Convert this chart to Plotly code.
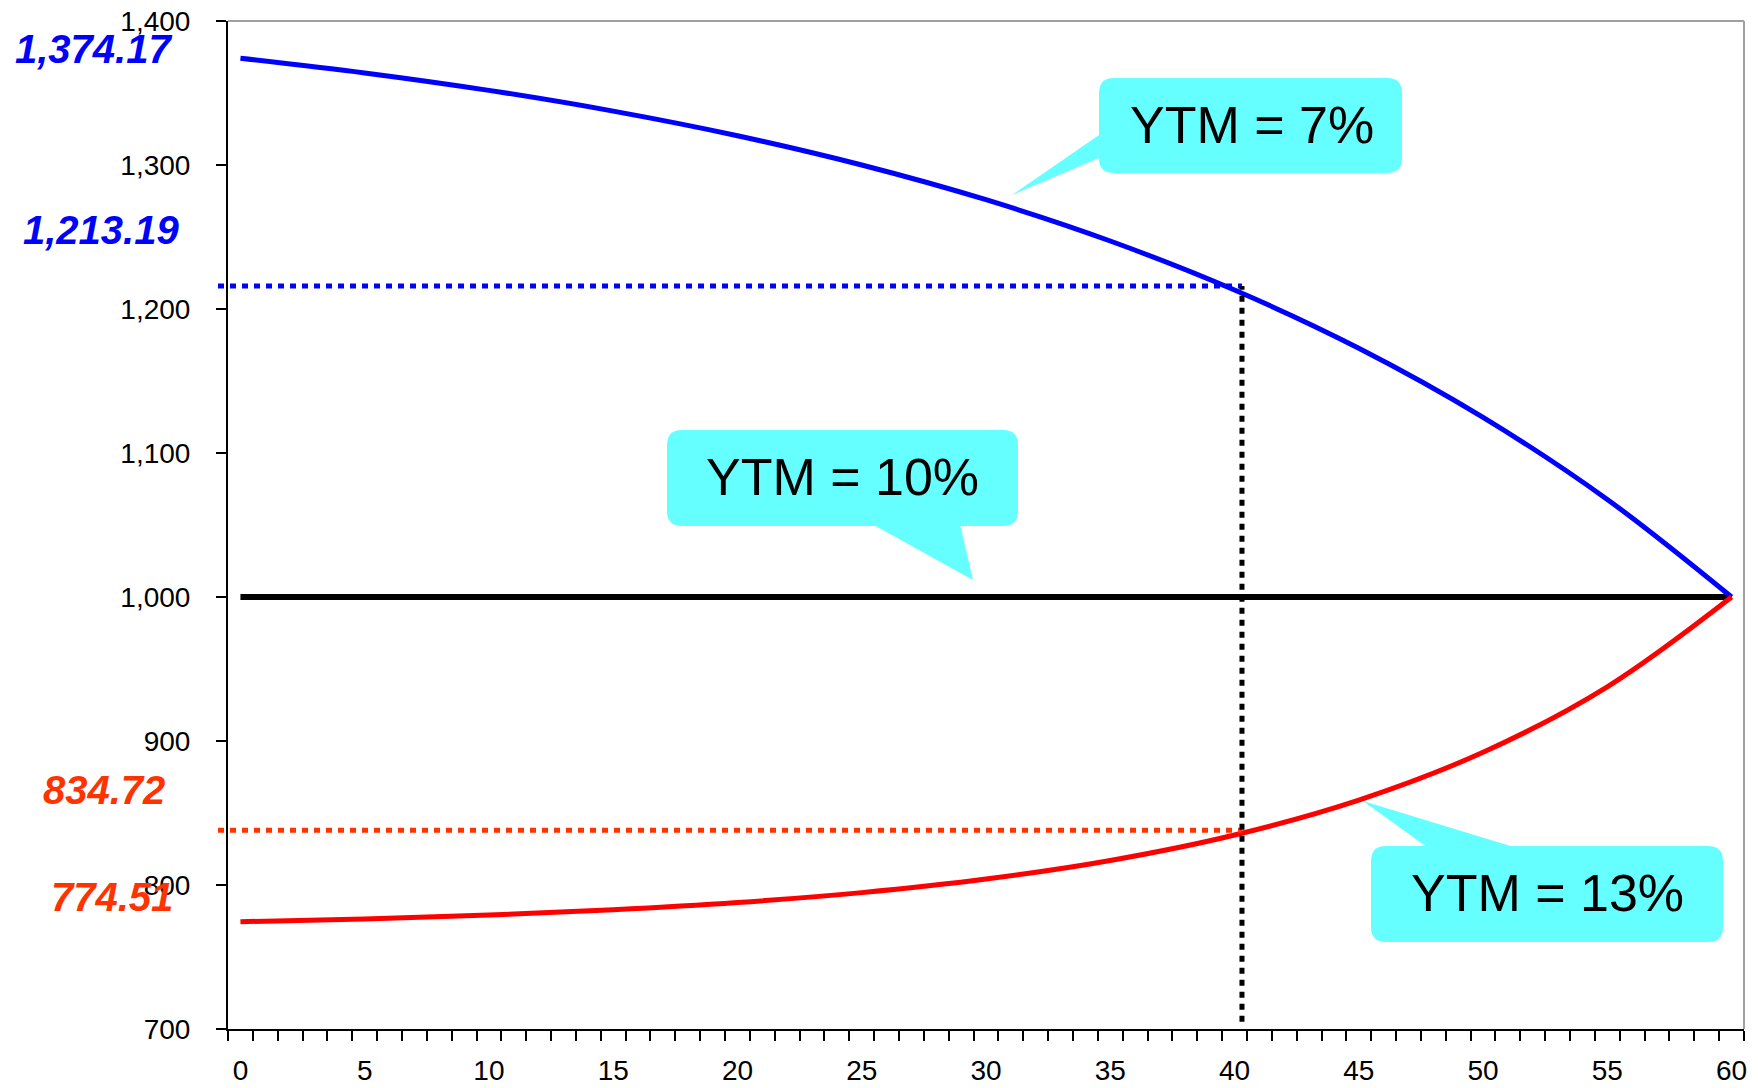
import plotly.graph_objects as go

# ---- data ----
periods = [0, 5, 10, 15, 20, 25, 30, 35, 40, 45, 50, 55, 60]
price_ytm7 = [1374.17, 1363.96, 1351.83, 1337.43, 1320.33, 1300.01, 1275.88,
              1247.22, 1213.18, 1172.76, 1124.75, 1067.73, 1000.00]
price_ytm10 = [1000.00] * 13
price_ytm13 = [774.51, 776.46, 779.13, 782.80, 787.82, 794.70, 804.12,
               817.03, 834.72, 858.96, 892.17, 937.66, 1000.00]
x_ticks = [0, 5, 10, 15, 20, 25, 30, 35, 40, 45, 50, 55, 60]
marker_period = 40.3
marker_high = 1216
marker_low = 838
left_labels = ["1,374.17", "1,213.19", "834.72", "774.51"]
callout_texts = ["YTM = 7%", "YTM = 10%", "YTM = 13%"]

# ---- layout geometry (pixels) ----
W, H = 1758, 1088
L, R, T, B = 228, 14, 21, 59
PW, PH = W - L - R, H - T - B
FONT = "Liberation Sans, Arial, sans-serif"
BLUE, RED, TRED, CYAN = "#0000FF", "#FF0000", "#FF3300", "#66FFFF"


def px(xp, yp):
    return (xp - L) / PW, (H - B - yp) / PH


def rrect_path(x0, y0, x1, y1, r):
    def P(a, b):
        u, v = px(a, b)
        return f"{u:.5f},{v:.5f}"
    d = (f"M {P(x0 + r, y0)} L {P(x1 - r, y0)} Q {P(x1, y0)} {P(x1, y0 + r)} "
         f"L {P(x1, y1 - r)} Q {P(x1, y1)} {P(x1 - r, y1)} "
         f"L {P(x0 + r, y1)} Q {P(x0, y1)} {P(x0, y1 - r)} "
         f"L {P(x0, y0 + r)} Q {P(x0, y0)} {P(x0 + r, y0)} Z")
    return d


def tri_path(a, b, c):
    pa, pb, pc = px(*a), px(*b), px(*c)
    return (f"M {pa[0]:.5f},{pa[1]:.5f} L {pb[0]:.5f},{pb[1]:.5f} "
            f"L {pc[0]:.5f},{pc[1]:.5f} Z")


fig = go.Figure()
fig.add_trace(go.Scatter(x=periods, y=price_ytm10, mode="lines",
                         line=dict(color="black", width=6), hoverinfo="skip"))
fig.add_trace(go.Scatter(x=periods, y=price_ytm7, mode="lines",
                         line=dict(color=BLUE, width=5, shape="spline"), hoverinfo="skip"))
fig.add_trace(go.Scatter(x=periods, y=price_ytm13, mode="lines",
                         line=dict(color=RED, width=5, shape="spline"), hoverinfo="skip"))

shapes = []
# plot frame (top and right, grey)
shapes.append(dict(type="line", xref="paper", yref="paper", x0=0, x1=1, y0=1, y1=1,
                   line=dict(color="#A0A0A0", width=2)))
shapes.append(dict(type="line", xref="paper", yref="paper", x0=1, x1=1, y0=0, y1=1,
                   line=dict(color="#A0A0A0", width=2)))
# dotted guide lines
xl = px(218, 0)[0]
xr = px(1242, 0)[0]
shapes.append(dict(type="line", xref="paper", yref="y", x0=xl, x1=xr,
                   y0=marker_high, y1=marker_high,
                   line=dict(color=BLUE, width=5, dash="6px,6px")))
shapes.append(dict(type="line", xref="paper", yref="y", x0=xl, x1=xr,
                   y0=marker_low, y1=marker_low,
                   line=dict(color=TRED, width=5, dash="6px,6px")))
shapes.append(dict(type="line", xref="x", yref="y", x0=marker_period, x1=marker_period,
                   y0=705, y1=marker_high,
                   line=dict(color="black", width=5, dash="6px,6px")))

# callouts
boxes = [
    dict(box=(1099, 78, 1402, 173), tri=((1099, 135), (1099, 158), (1012, 195)), txt=(1252, 125)),
    dict(box=(667, 430, 1018, 526), tri=((872, 524), (960, 524), (973, 580)), txt=(842, 477)),
    dict(box=(1371, 846, 1723, 942), tri=((1428, 848), (1517, 848), (1363, 801)), txt=(1547, 893)),
]
annotations = []
for b, text in zip(boxes, callout_texts):
    shapes.append(dict(type="path", xref="paper", yref="paper", path=tri_path(*b["tri"]),
                       fillcolor=CYAN, line=dict(width=0), layer="above"))
    shapes.append(dict(type="path", xref="paper", yref="paper", path=rrect_path(*b["box"], 15),
                       fillcolor=CYAN, line=dict(width=0), layer="above"))
    u, v = px(*b["txt"])
    annotations.append(dict(xref="paper", yref="paper", x=u, y=v, text=text,
                            showarrow=False, xanchor="center", yanchor="middle",
                            font=dict(family=FONT, size=52, color="black")))

# left value labels
label_pos = [(93.5, 49, BLUE), (101, 230, BLUE), (104, 790, TRED), (112, 897, TRED)]
for text, (xp, yp, col) in zip(left_labels, label_pos):
    u, v = px(xp, yp)
    annotations.append(dict(xref="paper", yref="paper", x=u, y=v,
                            text=f"<b><i>{text}</i></b>", showarrow=False,
                            xanchor="center", yanchor="middle",
                            font=dict(family=FONT, size=40, color=col)))

fig.update_layout(
    width=W, height=H, autosize=False,
    margin=dict(l=L, r=R, t=T, b=B, pad=0, autoexpand=False),
    paper_bgcolor="white", plot_bgcolor="white",
    showlegend=False,
    shapes=shapes, annotations=annotations,
    xaxis=dict(range=[-0.5, 60.5], tickmode="array", tickvals=x_ticks,
               ticktext=[str(t) for t in x_ticks], ticks="", showgrid=False,
               zeroline=False, showline=True, linecolor="black", linewidth=2,
               automargin=False,
               tickfont=dict(family=FONT, size=28, color="black"),
               ticklabelstandoff=15,
               minor=dict(tickmode="linear", tick0=-0.5, dtick=1, ticks="outside",
                          ticklen=10, tickwidth=2, tickcolor="black", showgrid=False)),
    yaxis=dict(range=[700, 1400], tickmode="linear", tick0=700, dtick=100,
               tickformat=",", ticks="outside", ticklen=10, tickwidth=2,
               tickcolor="black", showgrid=False, zeroline=False, showline=True,
               linecolor="black", linewidth=2, ticklabelstandoff=20,
               automargin=False,
               tickfont=dict(family=FONT, size=28, color="black")),
)

fig.write_html("out.html")
